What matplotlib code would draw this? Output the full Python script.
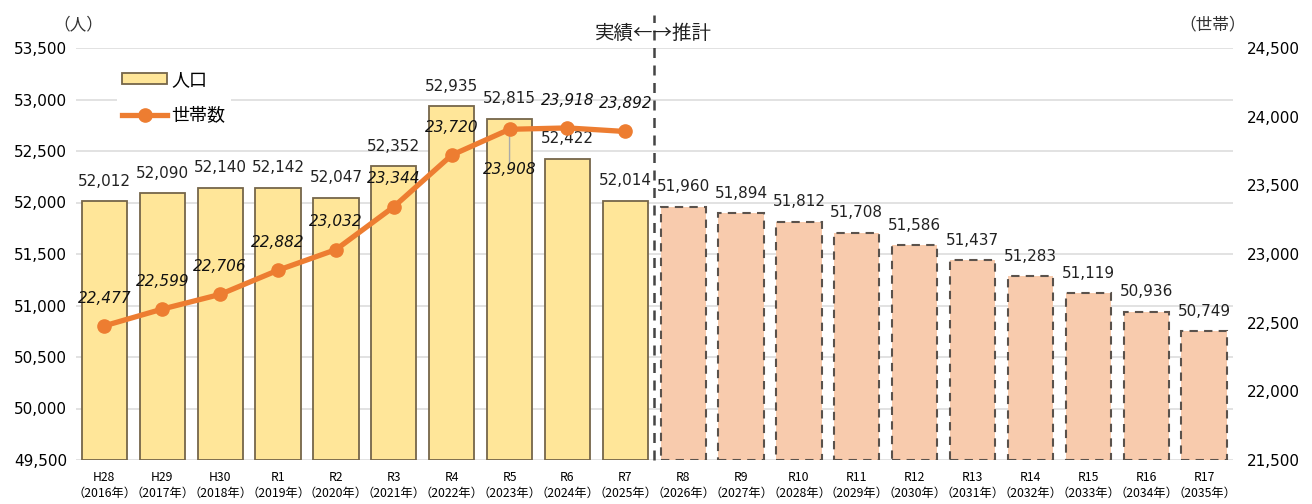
import matplotlib
matplotlib.use("Agg")
import matplotlib.pyplot as plt
from matplotlib.patches import Patch
from matplotlib.lines import Line2D
from matplotlib.ticker import FuncFormatter

plt.rcParams['font.family'] = ['Noto Sans CJK JP', 'DejaVu Sans']

years_wareki = ["H28", "H29", "H30", "R1", "R2", "R3", "R4", "R5", "R6", "R7",
                "R8", "R9", "R10", "R11", "R12", "R13", "R14", "R15", "R16", "R17"]
years_ad = ["2016", "2017", "2018", "2019", "2020", "2021", "2022", "2023", "2024", "2025",
            "2026", "2027", "2028", "2029", "2030", "2031", "2032", "2033", "2034", "2035"]
population = [52012, 52090, 52140, 52142, 52047, 52352, 52935, 52815, 52422, 52014,
              51960, 51894, 51812, 51708, 51586, 51437, 51283, 51119, 50936, 50749]
n_actual = 10
households = [22477, 22599, 22706, 22882, 23032, 23344, 23720, 23908, 23918, 23892]

pop_ticks = [49500, 50000, 50500, 51000, 51500, 52000, 52500, 53000, 53500]
hh_ticks = [21500, 22000, 22500, 23000, 23500, 24000, 24500]

W, H = 1312, 504
fig = plt.figure(figsize=(W / 100, H / 100), dpi=100)
ax = fig.add_axes([75.5 / W, 1 - 460 / H, (1233 - 75.5) / W, (460 - 48) / H])
ax2 = ax.twinx()

x = list(range(len(population)))
bw = 0.78
act_fill, act_edge = "#FFE699", "#75664A"
fc_fill, fc_edge = "#F8CBAD", "#5A524C"

for i, v in enumerate(population):
    if i < n_actual:
        ax.bar(i, v - pop_ticks[0], bottom=pop_ticks[0], width=bw, color=act_fill,
               edgecolor=act_edge, linewidth=1.3, zorder=2)
    else:
        ax.bar(i, v - pop_ticks[0], bottom=pop_ticks[0], width=bw, color=fc_fill,
               edgecolor=fc_edge, linewidth=1.5, linestyle=(0, (4, 3)), zorder=2)
    ax.annotate(f"{v:,}", (i, v), xytext=(0, 14.5), textcoords="offset points",
                ha="center", va="center", fontsize=11, family="DejaVu Sans",
                color="#222222", zorder=5)

ax.set_xlim(-0.5, len(population) - 0.5)
ax.set_ylim(pop_ticks[0], pop_ticks[-1])
ax.set_yticks(pop_ticks)
ax.yaxis.set_major_formatter(FuncFormatter(lambda v, p: f"{int(v):,}"))
ax.grid(axis="y", color="#DDDDDD", linewidth=1.2, zorder=0)
ax.set_axisbelow(True)
ax.set_xticks(x)
ax.set_xticklabels([f"{a}\n（{b}年）" for a, b in zip(years_wareki, years_ad)],
                   fontsize=8.8, linespacing=1.3)
ax.tick_params(axis="both", length=0)
ax.tick_params(axis="y", labelsize=11, pad=6)
ax.tick_params(axis="x", pad=8)
for lbl in ax.get_yticklabels():
    lbl.set_family("DejaVu Sans")
for s in ax.spines.values():
    s.set_visible(False)

ax2.set_ylim(hh_ticks[0], hh_ticks[-1])
ax2.set_yticks(hh_ticks)
ax2.yaxis.set_major_formatter(FuncFormatter(lambda v, p: f"{int(v):,}"))
ax2.tick_params(axis="y", length=0, labelsize=11, pad=10)
for lbl in ax2.get_yticklabels():
    lbl.set_family("DejaVu Sans")
for s in ax2.spines.values():
    s.set_visible(False)

hx = list(range(len(households)))
ax2.plot(hx, households, color="#ED7D31", linewidth=3.8, marker="o", markersize=9.5,
         zorder=4, solid_capstyle="round")
below = {7}
for i, v in enumerate(households):
    if i in below:
        ax2.annotate("", (i, v), xytext=(0, -26), textcoords="offset points",
                     arrowprops=dict(arrowstyle="-", color="#AAAAAA", lw=1), zorder=3)
        off = -29
    else:
        off = 20
    ax2.annotate(f"{v:,}", (i, v), xytext=(0, off), textcoords="offset points",
                 ha="center", va="center", fontsize=11, style="italic",
                 family="DejaVu Sans", color="#111111", zorder=6)

# divider between actual and projection
ax.plot([n_actual - 0.5, n_actual - 0.5], [pop_ticks[0], pop_ticks[-1] + 320],
        color="#444444", linewidth=1.8, linestyle=(0, (4, 3)), clip_on=False, zorder=3)
fig.text(653 / W, 1 - 33 / H, "実績←→推計", ha="center", va="center", fontsize=14,
         color="#222222")

fig.text(78 / W, 1 - 25 / H, "（人）", ha="center", va="center", fontsize=12, color="#333333")
fig.text(1213 / W, 1 - 25 / H, "（世帯）", ha="center", va="center", fontsize=12, color="#333333")

handles = [Patch(facecolor=act_fill, edgecolor=act_edge, linewidth=1.3),
           Line2D([0], [0], color="#ED7D31", linewidth=3.8, marker="o", markersize=9.5)]
leg = ax.legend(handles, ["人口", "世帯数"], loc="upper left",
                bbox_to_anchor=(0.028, 0.98), frameon=True, fontsize=13,
                handlelength=2.5, handleheight=0.55, handletextpad=0.2,
                labelspacing=1.0, borderpad=0.3, fancybox=False)
leg.get_frame().set_edgecolor("none")
leg.get_frame().set_facecolor("white")
leg.get_frame().set_alpha(1)
leg.set_zorder(10)

fig.savefig("out.png", dpi=100, facecolor="white")
